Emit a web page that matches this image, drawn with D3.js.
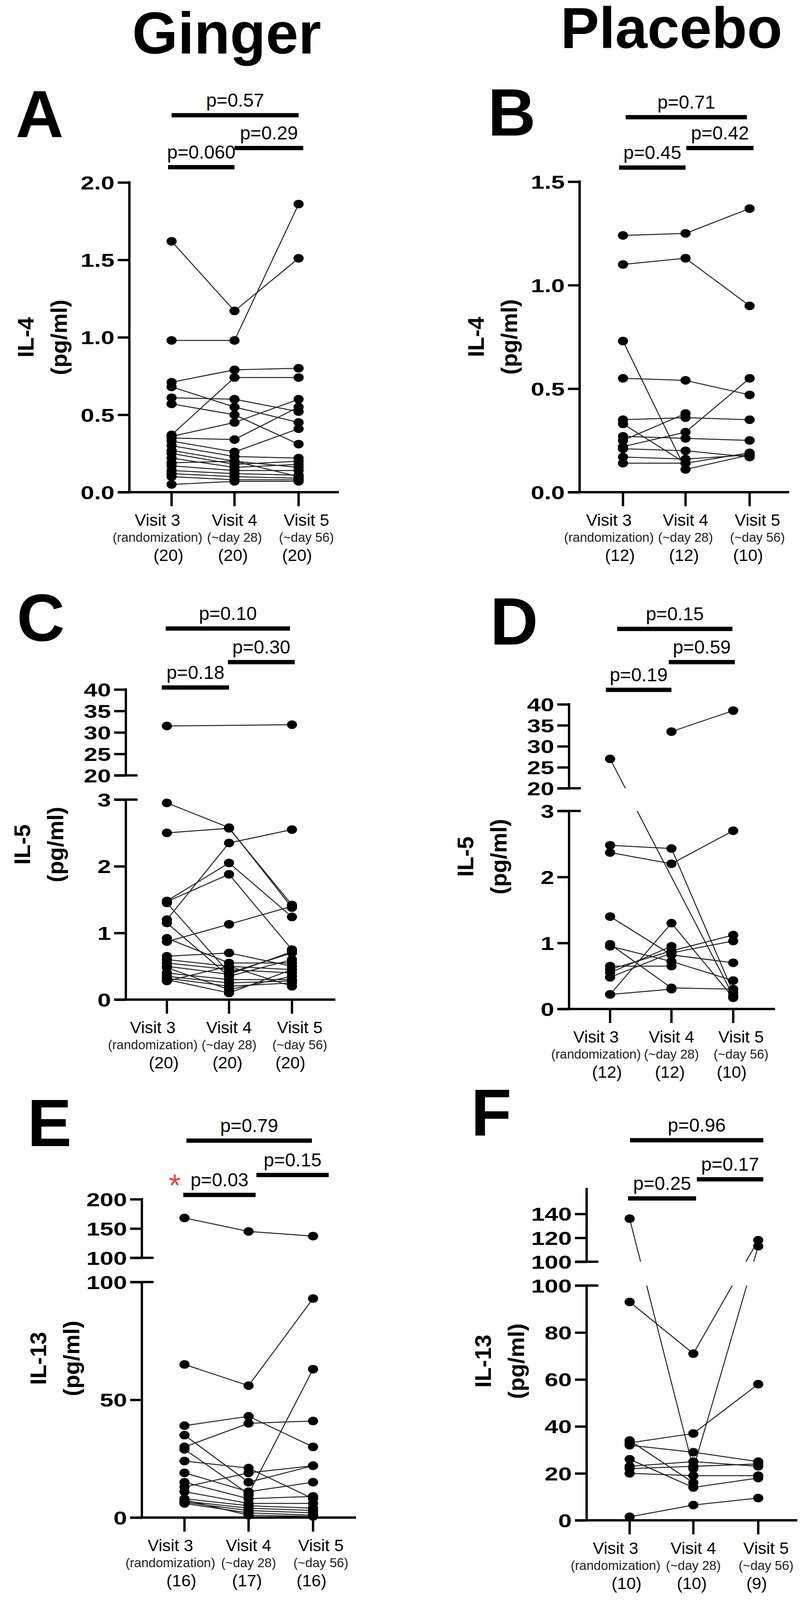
<!DOCTYPE html>
<html><head><meta charset="utf-8">
<script src="https://cdn.jsdelivr.net/npm/d3@7"></script>
<style>body{margin:0;background:#fff}svg{display:block;font-family:"Liberation Sans",Arial,sans-serif}</style>
</head><body>
<svg id="c" width="2052" height="5358"></svg>
<script>
// ---------- DATA ----------
const visits = ["Visit 3","Visit 4","Visit 5"];
const visitSub = ["(randomization)","(~day  28)","(~day 56)"];
const groups = ["Ginger","Placebo"];
const panelLetters = ["A","B","C","D","E","F","G","H"];
const cytokines = ["IL-4","IL-4","IL-5","IL-5","IL-13","IL-13","IL-17A","IL-17A"];
const nCounts = [["(20)","(20)","(20)"],["(12)","(12)","(10)"],["(20)","(20)","(20)"],["(12)","(12)","(10)"],["(16)","(17)","(16)"],["(10)","(10)","(9)"],["(20)","(20)","(20)"],["(12)","(12)","(10)"]];
const pValues = [["p=0.57","p=0.29","p=0.060"],["p=0.71","p=0.42","p=0.45"],["p=0.10","p=0.30","p=0.18"],["p=0.15","p=0.59","p=0.19"],["p=0.79","p=0.15","p=0.03"],["p=0.96","p=0.17","p=0.25"],["p=0.41","p=0.61","p=0.025"],["p=0.85","p=0.63","p=0.35"]];
const significant = [false,false,false,false,true,false,true,false];

const A_v3=[1.62,0.98,0.71,0.68,0.61,0.57,0.37,0.36,0.35,0.33,0.30,0.27,0.25,0.22,0.19,0.17,0.14,0.12,0.10,0.05];
const A_v4=[1.17,0.98,0.79,0.55,0.60,0.50,0.74,0.45,0.34,0.26,0.23,0.20,0.18,0.16,0.20,0.14,0.12,0.10,0.08,0.07];
const A_v5=[1.51,1.86,0.80,0.45,0.52,0.31,0.74,0.60,0.55,0.41,0.22,0.10,0.20,0.18,0.16,0.14,0.11,0.09,0.08,0.07];

const B_v3=[1.24,1.10,0.73,0.55,0.35,0.33,0.27,0.25,0.22,0.21,0.17,0.14];
const B_v4=[1.25,1.13,0.11,0.54,0.36,0.14,0.26,0.38,0.29,0.20,0.16,0.14];
const B_v5=[1.37,0.90,0.18,0.47,0.35,0.19,0.25,null,0.55,0.17,0.18,null];

const C_v3=[31.5,2.95,2.5,1.48,1.47,0.87,1.2,1.45,1.15,0.92,0.65,0.6,0.55,0.5,0.48,0.4,0.35,0.32,0.3,0.28];
const C_v4=[null,2.58,2.57,2.05,1.88,1.13,2.35,0.4,0.35,0.55,0.7,0.5,0.45,0.38,0.15,0.3,0.25,0.2,0.1,0.5];
const C_v5=[31.8,1.38,1.42,1.24,0.75,1.40,2.55,0.7,0.6,0.55,0.5,0.45,0.4,0.72,0.35,0.3,0.28,0.25,0.45,0.2];

const D_v3=[null,27,2.48,2.37,1.4,0.98,0.95,0.65,0.6,0.55,0.48,0.22,0.22];
const D_v4=[33.5,null,2.43,2.2,0.82,0.32,0.72,0.65,0.88,0.95,0.85,1.3,0.3];
const D_v5=[38.5,0.2,0.25,2.7,0.7,0.3,0.43,null,1.12,null,1.03,0.17,null];

const E_v3=[168,65,39,35,30,29,24,19,15,13,11,8,7,6.5,6,7.5,null];
const E_v4=[145,56,43,15,40,10,21,11,8,19,6,5,4,3,2,1,9.5];
const E_v5=[137,93,30,22,41,63,8,15,9,22,6,4,3,2,1,0.5,null];

const F_v3=[136,93,33,34,32,26,23,22,20,1.5];
const F_v4=[22,71,37,16,29,14,25,23,19,6.5];
const F_v5=[113,118,58,null,25,18,23,24,19,9.5];

const G_v3=[7.6,7.1,6.9,5.1,4.3,3.4,3.0,2.6,2.2,1.7,1.2,1.1,1.0,0.9,0.8,0.7,0.6,0.4,0.3,0.2];
const G_v4=[9.4,7.7,7.4,6.7,5.1,3.6,3.1,3.0,2.3,1.5,1.3,1.1,1.0,0.9,0.8,0.7,0.6,0.5,0.4,0.3];
const G_v5=[25.8,4.8,5.2,6.3,5.4,4.2,2.8,1.8,2.1,1.4,1.2,1.1,1.0,0.9,0.8,0.7,0.6,0.5,0.4,0.2];

const H_v3=[5.8,5.6,2.8,1.85,1.05,0.85,0.75,0.6,0.5,0.3,0.1,0.05];
const H_v4=[5.4,6.0,2.15,1.8,0.5,1.1,0.8,0.7,0.4,0.6,0.35,0.1];
const H_v5=[8.1,3.9,2.3,2.2,null,1.4,0.9,0.7,0.5,0.4,0.3,null];

const panelData=[[A_v3,A_v4,A_v5],[B_v3,B_v4,B_v5],[C_v3,C_v4,C_v5],[D_v3,D_v4,D_v5],[E_v3,E_v4,E_v5],[F_v3,F_v4,F_v5],[G_v3,G_v4,G_v5],[H_v3,H_v4,H_v5]];

const lowerDomains=[[0,2],[0,1.5],[0,3],[0,3],[0,100],[0,100],[0,10],[0,10]];
const lowerTicks=[[0,0.5,1,1.5,2],[0,0.5,1,1.5],[0,1,2,3],[0,1,2,3],[0,50,100],[0,20,40,60,80,100],[0,5,10],[0,2,4,6,8,10]];
const upperDomains=[null,null,[20,40],[20,40],[100,200],[100,150],[15,30],null];
const upperTicks=[null,null,[20,25,30,35,40],[20,25,30,35,40],[100,150,200],[100,120,140],[15,20,25,30],null];
const tickFormats=[".1f",".1f","d","d","d","d","d","d"];

// ---------- LAYOUT ----------
const layout=[
 {ax:331,end:867,cols:[439,600,764],low:[1260,467],up:null,bars:[[439,764,295],[600,776,379],[430,600,428]],letter:[40,351]},
 {ax:1483,end:2019,cols:[1594,1754,1918],low:[1260,465],up:null,bars:[[1601,1911,300],[1756,1928,379],[1584,1754,429]],letter:[1248,347]},
 {ax:322,end:858,cols:[427,586,747],low:[2559,2047],up:[1985,1765],bars:[[424,742,1609],[583,754,1695],[414,586,1760]],letter:[43,1640]},
 {ax:1456,end:1983,cols:[1561,1718,1876],low:[2583,2076],up:[2018,1803],bars:[[1579,1874,1610],[1711,1880,1695],[1550,1718,1766]],letter:[1254,1650]},
 {ax:363,end:911,cols:[472,636,801],low:[3885,3282],up:[3220,3070],bars:[[477,798,2920],[656,841,3008],[469,654,3059]],letter:[70,2934],star:[447,3062]},
 {ax:1501,end:2040,cols:[1611,1774,1940],low:[3892,3291],up:[3230,3077],bars:[[1612,1953,2919],[1783,1953,3019],[1607,1781,3068]],letter:[1205,2907]},
 {ax:331,end:891,cols:[442,611,779],low:[5156,4582],up:[4517,4330],bars:[[445,805,4202],[632,813,4288],[437,615,4339]],letter:[50,4281],star:[397,4352]},
 {ax:1481,end:2037,cols:[1591,1758,1925],low:[5158,4330],up:null,bars:[[1599,1951,4205],[1781,1960,4288],[1586,1763,4339]],letter:[1271,4281]}
];

const svg=d3.select("#c");
svg.append("text").attr("x",580).attr("y",137).attr("text-anchor","middle").attr("font-size",150).attr("font-weight","bold").text(groups[0]);
svg.append("text").attr("x",1718).attr("y",123).attr("text-anchor","middle").attr("font-size",148).attr("font-weight","bold").text(groups[1]);

const defs=svg.append("defs");
const TL=30, SW=6, TX=1.3;

layout.forEach((L,i)=>{
  const g=svg.append("g");
  const yLow=d3.scaleLinear().domain(lowerDomains[i]).range(L.low);
  const yUp=upperDomains[i]?d3.scaleLinear().domain(upperDomains[i]).range(L.up):null;
  const yv=v=> (yUp && v>lowerDomains[i][1]) ? yUp(v) : yLow(v);
  const x=d3.scaleOrdinal().domain(visits).range(L.cols);

  // clip
  const cp=defs.append("clipPath").attr("id","clip"+i);
  cp.append("rect").attr("x",L.ax).attr("y",L.low[1]).attr("width",L.end-L.ax).attr("height",L.low[0]-L.low[1]+20);
  if(yUp) cp.append("rect").attr("x",L.ax).attr("y",L.up[1]-40).attr("width",L.end-L.ax).attr("height",L.up[0]-L.up[1]+40);
  else cp.select("rect").attr("y",L.low[1]-60).attr("height",L.low[0]-L.low[1]+80);

  const fmt=d3.format(tickFormats[i]);
  function styleAxis(sel){
    sel.select(".domain").remove();
    sel.selectAll(".tick line").attr("stroke","#000").attr("stroke-width",SW);
    sel.selectAll(".tick text").attr("font-size",48).attr("font-weight","bold").attr("fill","#000")
      .attr("x",-(TL+8)/TX).attr("dy","0.36em").attr("transform",`scale(${TX},1)`);
  }
  // lower y axis
  const la=g.append("g").attr("transform",`translate(${L.ax},0)`).call(d3.axisLeft(yLow).tickValues(lowerTicks[i]).tickSize(TL).tickFormat(fmt));
  styleAxis(la);
  g.append("line").attr("x1",L.ax).attr("x2",L.ax).attr("y1",L.low[0]).attr("y2",L.low[1]-SW/2).attr("stroke","#000").attr("stroke-width",SW);
  if(yUp){
    const ua=g.append("g").attr("transform",`translate(${L.ax},0)`).call(d3.axisLeft(yUp).tickValues(upperTicks[i]).tickSize(TL).tickFormat(fmt));
    styleAxis(ua);
    const topY = i===5 ? L.up[1]-36 : L.up[1]-SW/2;
    g.append("line").attr("x1",L.ax).attr("x2",L.ax).attr("y1",L.up[0]).attr("y2",topY).attr("stroke","#000").attr("stroke-width",SW);
    // break markers
    [L.up[0],L.low[1]].forEach(yy=>g.append("line").attr("x1",L.ax-TL).attr("x2",L.ax+TL).attr("y1",yy).attr("y2",yy).attr("stroke","#000").attr("stroke-width",SW));
  }
  // x axis
  g.append("line").attr("x1",L.ax-TL).attr("x2",L.end).attr("y1",L.low[0]).attr("y2",L.low[0]).attr("stroke","#000").attr("stroke-width",SW);
  visits.forEach((v,k)=>{
    const cx=x(v);
    g.append("line").attr("x1",cx).attr("x2",cx).attr("y1",L.low[0]).attr("y2",L.low[0]+36).attr("stroke","#000").attr("stroke-width",SW);
    const dx1=[-36,0,20][k], dx3=[-8,-4,-4][k];
    g.append("text").attr("x",cx+dx1).attr("y",L.low[0]+86).attr("text-anchor","middle").attr("font-size",43).text(v);
    g.append("text").attr("x",cx+dx1).attr("y",L.low[0]+127).attr("text-anchor","middle").attr("font-size",33).attr("fill","#222").text(visitSub[k]);
    g.append("text").attr("x",cx+dx3).attr("y",L.low[0]+176).attr("text-anchor","middle").attr("font-size",43).text(nCounts[i][k]);
  });
  // y label
  const cy=(L.low[0]+(yUp?L.up[1]:L.low[1]))/2;
  g.append("text").attr("transform",`translate(${L.ax-245},${cy}) rotate(-90)`).attr("text-anchor","middle").attr("font-size",58).attr("font-weight","bold").text(cytokines[i]);
  g.append("text").attr("transform",`translate(${L.ax-160},${cy}) rotate(-90)`).attr("text-anchor","middle").attr("font-size",58).attr("font-weight","bold").text("(pg/ml)");

  // lines
  const d=panelData[i];
  const n=d[0].length;
  const line=d3.line().x(p=>p[0]).y(p=>p[1]);
  const lg=g.append("g").attr("clip-path",`url(#clip${i})`);
  for(let s=0;s<n;s++){
    const pts=[];
    visits.forEach((v,k)=>{ if(d[k][s]!=null) pts.push([x(v),yv(d[k][s])]); });
    if(pts.length>1) lg.append("path").attr("d",line(pts)).attr("fill","none").attr("stroke","#222").attr("stroke-width",2.5);
  }
  visits.forEach((v,k)=>{
    g.append("g").selectAll("ellipse").data(d[k].filter(val=>val!=null)).join("ellipse")
      .attr("cx",x(v)).attr("cy",val=>yv(val)).attr("rx",13).attr("ry",11).attr("fill","#000");
  });

  // significance bars
  L.bars.forEach((b,k)=>{
    g.append("line").attr("x1",b[0]).attr("x2",b[1]).attr("y1",b[2]).attr("y2",b[2]).attr("stroke","#000").attr("stroke-width",11);
    g.append("text").attr("x",(b[0]+b[1])/2).attr("y",b[2]-22).attr("text-anchor","middle").attr("font-size",48).text(pValues[i][k]);
  });
  if(significant[i]) g.append("text").attr("x",L.star[0]).attr("y",L.star[1]).attr("text-anchor","middle").attr("font-size",80).attr("fill","#f03c3c").text("*");

  g.append("text").attr("x",L.letter[0]).attr("y",L.letter[1]).attr("font-size",170).attr("font-weight","bold").text(panelLetters[i]);
});
</script>
</body></html>
